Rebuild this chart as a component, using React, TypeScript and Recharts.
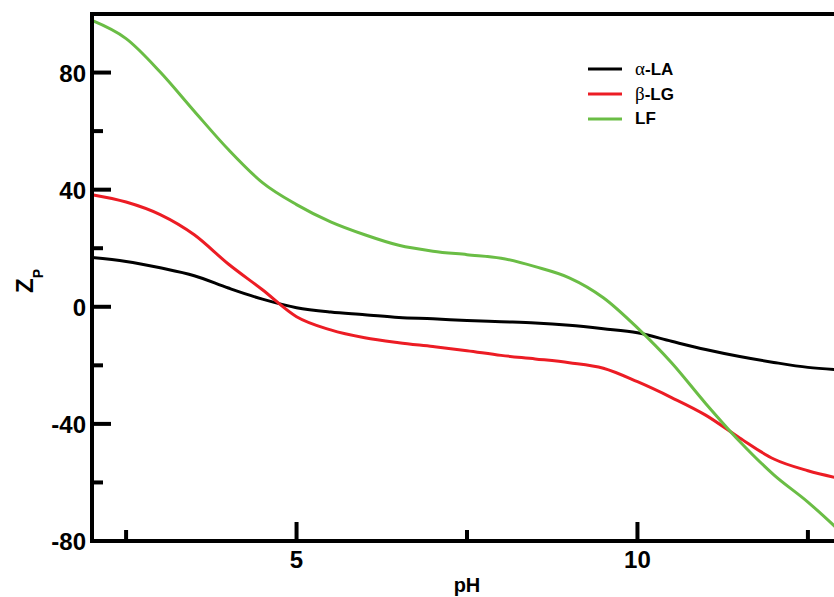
import React from 'react';
import { LineChart, Line, XAxis, YAxis, ReferenceLine } from 'recharts';

// pH grid and net charge values
const PH = [2, 2.5, 3, 3.5, 4, 4.5, 5, 5.5, 6, 6.5, 7, 7.5, 8, 8.5, 9, 9.5, 10, 10.5, 11, 11.5, 12, 12.5, 13];
const ALPHA_LA = [16.8, 15.5, 13.3, 10.6, 6.4, 2.6, -0.3, -1.8, -2.7, -3.7, -4.1, -4.7, -5.1, -5.5, -6.3, -7.5, -8.9, -11.8, -14.6, -17.0, -19.0, -20.7, -21.6];
const BETA_LG = [38.3, 35.8, 31.5, 24.6, 14.6, 5.8, -3.4, -7.9, -10.6, -12.3, -13.6, -15.0, -16.6, -17.8, -19.1, -21.0, -25.6, -31.0, -37.0, -44.8, -52.0, -56.0, -58.8];
const LF = [97.8, 91.6, 80.2, 66.8, 53.7, 42.4, 34.9, 29.0, 24.6, 21.0, 19.0, 17.8, 16.6, 13.7, 9.9, 3.1, -7.2, -19.1, -33.0, -46.0, -57.4, -66.7, -77.3];

const X_DOMAIN = [2, 13];
const Y_DOMAIN = [-80, 100];
const X_TICKS = [2.5, 5, 7.5, 10, 12.5];
const X_LABELED = [5, 10];
const Y_TICKS = [-80, -60, -40, -20, 0, 20, 40, 60, 80];
const Y_LABELED = [-80, -40, 0, 40, 80];

const SERIES = [
  { key: 'a', greek: 'α', name: '-LA', color: '#000000' },
  { key: 'b', greek: 'β', name: '-LG', color: '#ec1c24' },
  { key: 'lf', greek: '', name: 'LF', color: '#6abd45' },
];

const data = PH.map((ph, i) => ({ ph, a: ALPHA_LA[i], b: BETA_LG[i], lf: LF[i] }));

const FONT = '"Liberation Sans", Arial, Helvetica, sans-serif';
const MAJOR = 19;
const MINOR = 11;

function BottomTick({ x, y, payload }: any) {
  const major = X_LABELED.includes(payload.value);
  return (
    <g>
      <line x1={x} x2={x} y1={y} y2={y - (major ? MAJOR : MINOR)} stroke="#000" strokeWidth={4} />
      {major && (
        <text x={x} y={y + 27} textAnchor="middle" fontFamily={FONT} fontWeight="bold" fontSize={24} fill="#000">
          {payload.value}
        </text>
      )}
    </g>
  );
}

function TopTick({ x, y, payload }: any) {
  const major = X_LABELED.includes(payload.value);
  return <line x1={x} x2={x} y1={y} y2={y + (major ? MAJOR : MINOR)} stroke="#000" strokeWidth={4} />;
}

function LeftTick({ x, y, payload }: any) {
  const major = Y_LABELED.includes(payload.value);
  return (
    <g>
      <line x1={x} x2={x + (major ? MAJOR : MINOR)} y1={y} y2={y} stroke="#000" strokeWidth={4} />
      {major && (
        <text x={x - 6} y={y + 9} textAnchor="end" fontFamily={FONT} fontWeight="bold" fontSize={24} fill="#000">
          {payload.value}
        </text>
      )}
    </g>
  );
}

function RightTick({ x, y, payload }: any) {
  const major = Y_LABELED.includes(payload.value);
  return <line x1={x} x2={x - (major ? MAJOR : MINOR)} y1={y} y2={y} stroke="#000" strokeWidth={4} />;
}

function LegendBox() {
  return (
    <div style={{ position: 'absolute', left: 588, top: 56, fontFamily: FONT, fontWeight: 'bold', fontSize: 17 }}>
      {SERIES.map((s) => (
        <div key={s.key} style={{ display: 'flex', alignItems: 'center', height: 25 }}>
          <svg width={36} height={6} style={{ marginRight: 11 }}>
            <line x1={0} x2={34} y1={3} y2={3} stroke={s.color} strokeWidth={3} />
          </svg>
          <span>
            {s.greek && (
              <span style={{ fontFamily: '"Liberation Serif", serif', fontWeight: 'normal', fontSize: 19 }}>{s.greek}</span>
            )}
            {s.name}
          </span>
        </div>
      ))}
    </div>
  );
}

export default function App() {
  return (
    <div style={{ position: 'fixed', left: 0, top: 0, width: 834, height: 597, overflow: 'hidden', background: '#fff' }}>
      <LineChart width={870} height={597} data={data} margin={{ top: 14, right: 28, bottom: 0, left: 0 }}>
        <XAxis
          dataKey="ph"
          type="number"
          domain={X_DOMAIN}
          ticks={X_TICKS}
          interval={0}
          tickSize={0}
          tickMargin={0}
          tickLine={false}
          tick={<BottomTick />}
          axisLine={false}
          height={56}
          label={{ value: 'pH', position: 'insideBottom', offset: 5, fontFamily: FONT, fontWeight: 'bold', fontSize: 20, fill: '#000' }}
        />
        <XAxis
          xAxisId="top"
          dataKey="ph"
          type="number"
          orientation="top"
          domain={X_DOMAIN}
          ticks={X_TICKS}
          interval={0}
          tickSize={0}
          tickMargin={0}
          tickLine={false}
          tick={<TopTick />}
          axisLine={false}
          height={0}
        />
        <YAxis
          type="number"
          domain={Y_DOMAIN}
          ticks={Y_TICKS}
          interval={0}
          tickSize={0}
          tickMargin={0}
          tickLine={false}
          tick={<LeftTick />}
          axisLine={false}
          width={92}
          label={{
            content: () => (
              <text transform="rotate(-90, 33, 293)" x={33} y={293} fontFamily={FONT} fontWeight="bold" fontSize={24} fill="#000">
                Z
                <tspan dy={10} fontSize={14}>P</tspan>
              </text>
            ),
          }}
        />
        <YAxis
          yAxisId="right"
          type="number"
          orientation="right"
          domain={Y_DOMAIN}
          ticks={Y_TICKS}
          interval={0}
          tickSize={0}
          tickMargin={0}
          tickLine={false}
          tick={<RightTick />}
          axisLine={false}
          width={0}
        />
        {SERIES.map((s) => (
          <Line
            key={s.key}
            type="monotone"
            dataKey={s.key}
            name={s.greek + s.name}
            stroke={s.color}
            strokeWidth={3}
            dot={false}
            isAnimationActive={false}
          />
        ))}
        {/* box frame */}
        <ReferenceLine x={X_DOMAIN[0]} stroke="#000" strokeWidth={4} ifOverflow="visible" />
        <ReferenceLine x={X_DOMAIN[1]} stroke="#000" strokeWidth={4} ifOverflow="visible" />
        <ReferenceLine y={Y_DOMAIN[0]} stroke="#000" strokeWidth={4} strokeLinecap="square" ifOverflow="visible" />
        <ReferenceLine y={Y_DOMAIN[1]} stroke="#000" strokeWidth={4} strokeLinecap="square" ifOverflow="visible" />
      </LineChart>
      <LegendBox />
    </div>
  );
}
